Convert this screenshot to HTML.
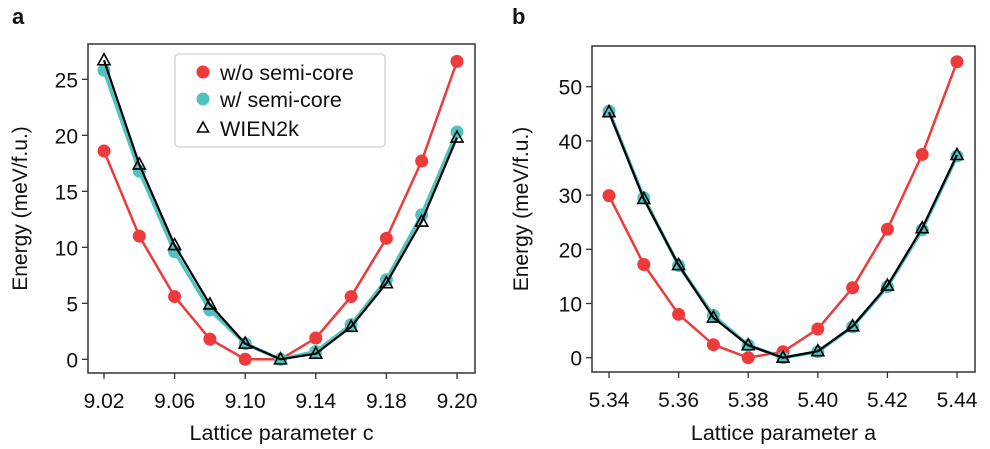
<!DOCTYPE html>
<html><head><meta charset="utf-8"><style>
html,body{margin:0;padding:0;background:#fff;}
svg text{font-family:"Liberation Sans",Arial,sans-serif;fill:#111;}
</style></head><body>
<svg id="fig" width="990" height="444" viewBox="0 0 990 444" xmlns="http://www.w3.org/2000/svg"></svg>
<script>
// Panel a data
const cValues = [9.02,9.038,9.056,9.074,9.092,9.11,9.128,9.146,9.164,9.182,9.20];
const aRed = [18.6,11.0,5.6,1.8,0,0,1.9,5.6,10.8,17.7,26.6];
const aTeal = [25.8,16.8,9.6,4.4,1.4,0,0.7,3.1,7.1,12.9,20.3];
const aWien = [26.7,17.4,10.2,4.9,1.4,0,0.5,2.9,6.8,12.3,19.8];
const aXTicks = [9.02,9.056,9.092,9.128,9.164,9.20];
const aXTickLabels = ["9.02","9.06","9.10","9.14","9.18","9.20"];
const aYTicks = [0,5,10,15,20,25];
// Panel b data
const aParam = [5.34,5.35,5.36,5.37,5.38,5.39,5.40,5.41,5.42,5.43,5.44];
const bRed = [29.9,17.2,8.0,2.4,0,1.1,5.3,12.9,23.7,37.5,54.6];
const bTeal = [45.5,29.5,17.0,7.8,2.3,0,1.1,5.7,13.1,23.6,37.2];
const bWien = [45.3,29.3,17.1,7.4,2.3,0,1.2,5.8,13.3,23.9,37.4];
const bXTicks = [5.34,5.36,5.38,5.40,5.42,5.44];
const bXTickLabels = ["5.34","5.36","5.38","5.40","5.42","5.44"];
const bYTicks = [0,10,20,30,40,50];

const NS="http://www.w3.org/2000/svg";
const svg=document.getElementById('fig');
function mk(tag,attrs,parent){const e=document.createElementNS(NS,tag);for(const k in attrs)e.setAttribute(k,attrs[k]);(parent||svg).appendChild(e);return e;}
const RED="#ee3a3a", TEAL="#52c2c0";

function panel(cfg){
  const g=mk('g',{});
  
  
  const xs=v=>cfg.px0+(v-cfg.x0)/(cfg.x1-cfg.x0)*(cfg.px1-cfg.px0);
  const ys=v=>cfg.py0+(v-cfg.y0)/(cfg.y1-cfg.y0)*(cfg.py1-cfg.py0);
  const f=mk('rect',{x:cfg.bx0,y:cfg.by0,width:cfg.bx1-cfg.bx0,height:cfg.by1-cfg.by0,fill:'none',stroke:'#333','stroke-width':1.5},g);
  
  
  cfg.xt.forEach((t,i)=>{
    const x=xs(t);
    const l=mk('line',{x1:x,x2:x,y1:cfg.by1,y2:cfg.by1+6,stroke:'#333','stroke-width':1.3},g);
    
    
    const tx=mk('text',{x:x,y:cfg.by1+35,'text-anchor':'middle','font-size':21},g);
    tx.textContent=cfg.xl[i];
    
    
  });
  cfg.yt.forEach(t=>{
    const y=ys(t);
    const l=mk('line',{x1:cfg.bx0-6,x2:cfg.bx0,y1:y,y2:y,stroke:'#333','stroke-width':1.3},g);
    
    
    const tx=mk('text',{x:cfg.bx0-10,y:y+8,'text-anchor':'end','font-size':21},g);
    tx.textContent=String(t);
    
    
  });
  const xt=mk('text',{x:(cfg.bx0+cfg.bx1)/2,y:440,'text-anchor':'middle','font-size':21.5},g);
  xt.textContent=cfg.xtitle;
  
  
  const cy=(cfg.by0+cfg.by1)/2;
  const yt=mk('text',{x:cfg.ytx,y:cy,'text-anchor':'middle','font-size':21,transform:`rotate(-90 ${cfg.ytx} ${cy})`},g);
  yt.textContent="Energy (meV/f.u.)";
  
  
  const pl=mk('text',{x:cfg.lx,y:24,'font-size':22,'font-weight':'bold'},g);
  pl.textContent=cfg.label;
  
  
  function series(vals,color,name,marker,lw){
    const pts=cfg.xv.map((v,i)=>xs(v)+','+ys(vals[i])).join(' ');
    const ln=mk('polyline',{points:pts,fill:'none',stroke:color,'stroke-width':lw},g);
    
    
    cfg.xv.forEach((v,i)=>{
      const x=xs(v),y=ys(vals[i]);let m;
      if(marker==='circle'){m=mk('circle',{cx:x,cy:y,r:6.5,fill:color},g);}
      else{m=mk('polygon',{points:`${x},${y-6.5} ${x-6},${y+4.5} ${x+6},${y+4.5}`,fill:'none',stroke:'#000','stroke-width':1.6},g);}
      
      
    });
  }
  series(cfg.red,RED,'w-o-semi-core','circle',2.5);
  series(cfg.teal,TEAL,'w-semi-core','circle',3.5);
  series(cfg.wien,'#000','wien2k','tri',2.2);
}
panel({name:'panel-a',label:'a',lx:12,ytx:27,xtitle:'Lattice parameter c',
  bx0:88,bx1:475,by0:44,by1:373,x0:9.02,x1:9.20,px0:104,px1:457,y0:0,y1:25,py0:359.3,py1:79.3,
  xv:cValues,red:aRed,teal:aTeal,wien:aWien,xt:aXTicks,xl:aXTickLabels,yt:aYTicks});
panel({name:'panel-b',label:'b',lx:512,ytx:528,xtitle:'Lattice parameter a',
  bx0:592,bx1:975,by0:46,by1:372,x0:5.34,x1:5.44,px0:609,px1:957,y0:0,y1:50,py0:357.7,py1:86.7,
  xv:aParam,red:bRed,teal:bTeal,wien:bWien,xt:bXTicks,xl:bXTickLabels,yt:bYTicks});

// Legend
const lg=mk('g',{});


const lb=mk('rect',{x:175,y:54,width:210,height:93,rx:4,fill:'#fff',stroke:'#d0d0d0','stroke-width':1.3},lg);


const entries=[['w/o semi-core','circle',RED,72],['w/ semi-core','circle',TEAL,99],['WIEN2k','tri','#000',128]];
entries.forEach(e=>{
  const it=mk('g',{},lg);
  
  
  if(e[1]==='circle')mk('circle',{cx:203,cy:e[3],r:6.5,fill:e[2]},it);
  else mk('polygon',{points:`203,${e[3]-6} 197.5,${e[3]+4} 208.5,${e[3]+4}`,fill:'none',stroke:'#000','stroke-width':1.6},it);
  const t=mk('text',{x:220,y:e[3]+8,'font-size':21.5},it);
  t.textContent=e[0];
});
</script>
</body></html>
